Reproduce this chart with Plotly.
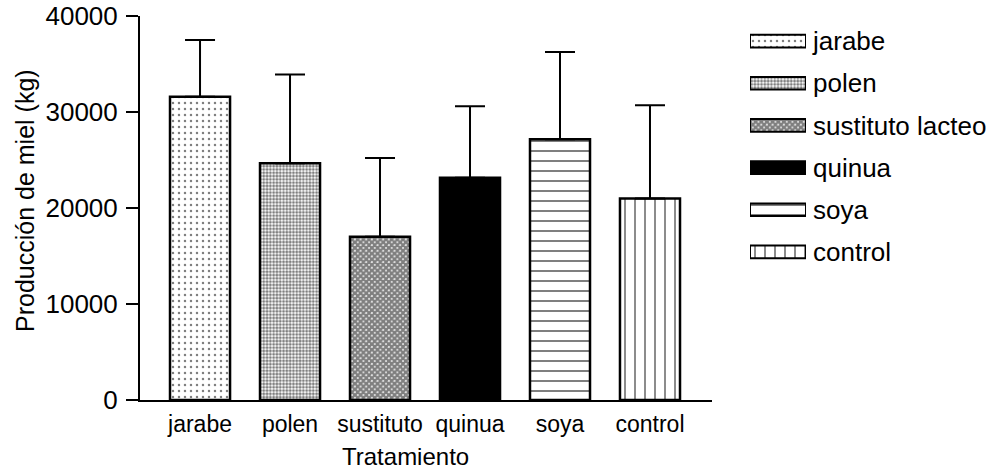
import plotly.graph_objects as go

# ---- data ----
categories = ["jarabe", "polen", "sustituto", "quinua", "soya", "control"]
legend_names = ["jarabe", "polen", "sustituto lacteo", "quinua", "soya", "control"]
means = [31600, 24650, 17000, 23150, 27150, 21000]
err_up = [5900, 9250, 8200, 7450, 9100, 9700]
y_ticks = [0, 10000, 20000, 30000, 40000]

# ---- styles ----
shapes = [".", ".", "x", "", "-", "|"]
psizes = [6, 3.3, 4, 8, 10, 10]
psolid = [0.13, 0.6, 0.85, 0.3, 0.2, 0.18]
fills = ["white", "white", "white", "black", "white", "white"]

W, H = 998, 472
FONT = "Arial, 'Liberation Sans', sans-serif"


def px_x(p):
    return p / W


def px_y(p):
    return 1 - p / H


fig = go.Figure()

for i, cat in enumerate(categories):
    pat = dict(shape=shapes[i], size=psizes[i], solidity=psolid[i],
               fgcolor="black", bgcolor="white") if shapes[i] else None
    marker = dict(color=fills[i], line=dict(color="black", width=2.5))
    if pat:
        marker["pattern"] = pat
    fig.add_trace(go.Bar(
        x=[cat], y=[means[i]], width=0.667,
        marker=marker,
        error_y=dict(type="data", array=[err_up[i]], arrayminus=[0],
                     symmetric=False, color="black", thickness=2, width=15),
        showlegend=False, xaxis="x", yaxis="y",
    ))
    marker2 = dict(color=fills[i], line=dict(color="black", width=2))
    if pat:
        marker2["pattern"] = pat
    fig.add_trace(go.Bar(
        x=[1], y=[legend_names[i]], orientation="h", width=0.3,
        marker=marker2,
        showlegend=False, xaxis="x2", yaxis="y2", hoverinfo="skip",
    ))

fig.update_layout(
    width=W, height=H,
    margin=dict(l=0, r=0, t=0, b=0, pad=0),
    paper_bgcolor="white", plot_bgcolor="white",
    font=dict(family=FONT, color="black"),
    barmode="overlay",
    showlegend=False,
    xaxis=dict(
        domain=[px_x(140), px_x(712)],
        range=[-0.667, 5.689],
        showline=True, linecolor="black", linewidth=2,
        ticks="", showgrid=False, zeroline=False,
        tickfont=dict(size=23, family=FONT, color="black"),
        ticklabelstandoff=2, automargin=False,
        anchor="y",
    ),
    yaxis=dict(
        domain=[px_y(400), px_y(16)],
        range=[0, 40000],
        tickvals=y_ticks, tickformat="d",
        showline=True, linecolor="black", linewidth=2,
        ticks="outside", ticklen=12, tickwidth=2, tickcolor="black",
        showgrid=False, zeroline=False,
        tickfont=dict(size=26, family=FONT, color="black"),
        ticklabelstandoff=3, automargin=False,
        anchor="x",
    ),
    xaxis2=dict(
        domain=[px_x(750), px_x(806)],
        range=[0, 1],
        visible=False, fixedrange=True, automargin=False,
        anchor="y2",
    ),
    yaxis2=dict(
        domain=[px_y(273), px_y(20)],
        autorange="reversed",
        side="right",
        showline=False, ticks="", showgrid=False, zeroline=False,
        tickfont=dict(size=26, family=FONT, color="black"),
        ticklabelstandoff=6, automargin=False,
        anchor="x2",
    ),
    annotations=[
        dict(text="Producción de miel (kg)", xref="paper", yref="paper",
             x=px_x(25), y=px_y(201), textangle=-90, showarrow=False,
             xanchor="center", yanchor="middle",
             font=dict(size=25, family=FONT, color="black")),
        dict(text="Tratamiento", xref="paper", yref="paper",
             x=px_x(405), y=px_y(456), showarrow=False,
             xanchor="center", yanchor="middle",
             font=dict(size=24, family=FONT, color="black")),
    ],
)

fig.write_html("out.html",
               config={"displayModeBar": False},
               post_script="document.body.style.margin='0px';")
